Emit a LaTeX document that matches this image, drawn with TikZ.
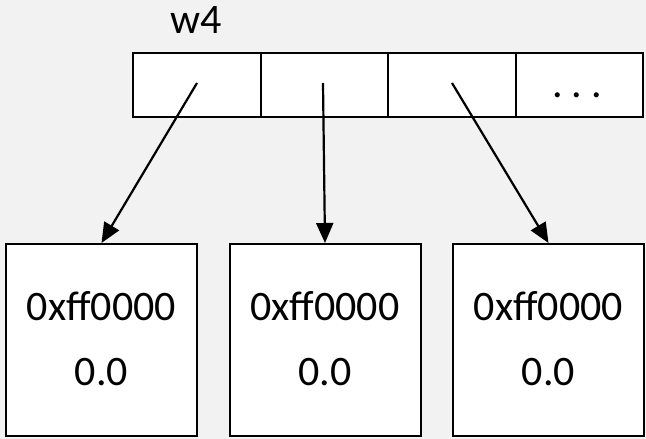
\documentclass[tikz,border=0pt]{standalone}
\usepackage{fontspec}
\setmainfont{Carlito}
\usetikzlibrary{arrows.meta}
\definecolor{bg}{HTML}{F2F2F2}
\begin{document}
\begin{tikzpicture}[x=1pt,y=-1pt,
  cell/.style={draw=black,line width=2pt,fill=white,minimum width=127.5pt,minimum height=64pt,inner sep=0pt,anchor=north west},
  valbox/.style={draw=black,line width=2pt,fill=white,minimum width=191pt,minimum height=192pt,inner sep=0pt,anchor=north west},
  lbl/.style={font=\fontsize{42}{50}\selectfont,inner sep=0pt,anchor=base},
  ptr/.style={line width=2.2pt,-{Triangle[length=20pt,width=17pt]}}]
\fill[bg] (0,0) rectangle (646,439);
\useasboundingbox (0,0) rectangle (646,439);
\node[lbl,anchor=base west] (name) at (170,33) {w4};
\node[cell] (c1) at (132,52) {};
\node[cell] (c2) at (259.5,52) {};
\node[cell] (c3) at (387,52) {};
\node[cell] (c4) at (514.5,52) {};
\node[lbl] (dots) at (577,97) {.\hspace{9pt}.\hspace{9pt}.};
\node[valbox] (b1) at (5,243) {};
\node[valbox] (b2) at (228.5,243) {};
\node[valbox] (b3) at (452,243) {};
\foreach \b in {b1,b2,b3}{
  \node[lbl] (\b hex) at ([yshift=-77pt]\b.north) {0xff0000};
  \node[lbl] (\b val) at ([yshift=-142pt]\b.north) {0.0};
}
\coordinate (s1) at (197,83);
\coordinate (s2) at (323,83);
\coordinate (s3) at (452,83);
\draw[ptr] (s1) -- (b1.north);
\draw[ptr] (s2) -- (b2.north);
\draw[ptr] (s3) -- (b3.north);
\end{tikzpicture}
\end{document}
